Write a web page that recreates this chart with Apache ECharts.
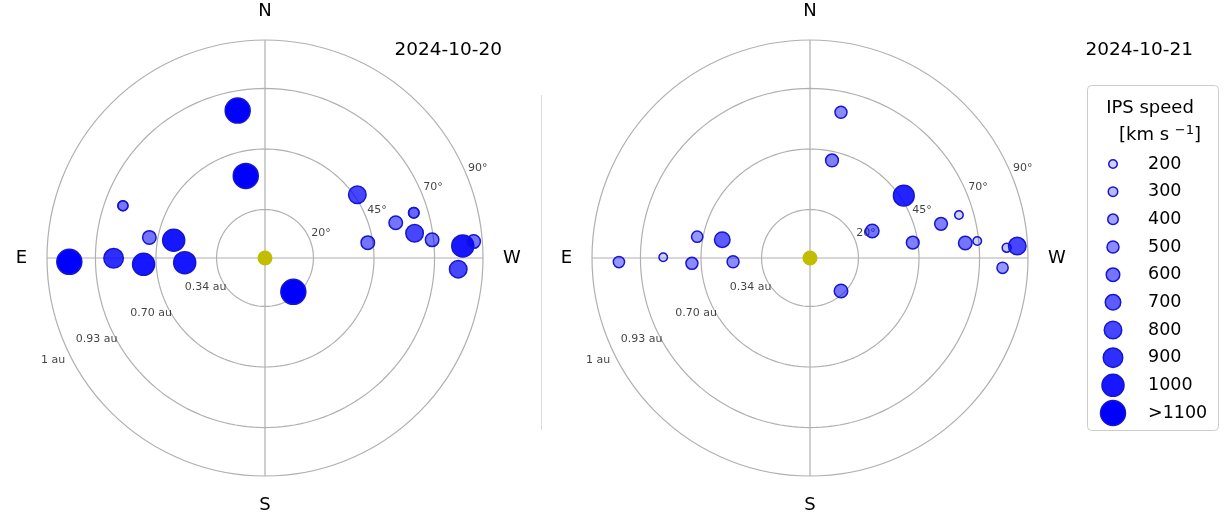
<!DOCTYPE html>
<html>
<head>
<meta charset="utf-8">
<script src="https://cdn.jsdelivr.net/npm/echarts@6/dist/echarts.min.js"></script>
<style>
  html, body { margin: 0; padding: 0; background: #fff; }
  #chart { width: 1227px; height: 513px; }
</style>
</head>
<body>
<div id="chart"></div>
<script>
// Elongation rings (deg) and their heliocentric distance labels
const ringDegs = [20, 45, 70, 90];
const ringAu = ['0.34 au', '0.70 au', '0.93 au', '1 au'];
// Compass labels at position angles 0, 90, 180, 270 (N through E)
const compass = ['N', 'E', 'S', 'W'];
const dates = ['2024-10-20', '2024-10-21'];

// 2024-10-20 IPS observations: elongation (deg), position angle (deg), speed (km/s)
const elong20 = [61.9, 34.8, 62.5, 62.5, 48.5, 38.4, 80.8, 62.5, 50.2, 33.2, 18.2, 46.2, 42.9, 55.9, 64.2, 64.2, 62.6, 69.4, 81.8, 86.4, 79.9];
const pa20    = [10.5, 13.2, 69.8, 69.8, 79.9, 79.0, 91.1, 90.1, 93.0, 93.3, 220.0, 304.4, 278.5, 285.1, 286.9, 286.9, 279.4, 276.2, 273.5, 274.5, 266.7];
const speed20 = [1150, 1150, 350, 350, 600, 1000, 1150, 900, 1000, 1000, 1150, 800, 600, 600, 400, 400, 800, 600, 1000, 600, 800];

// 2024-10-21 IPS observations
const elong21 = [78.9, 60.6, 48.8, 47.4, 37.0, 31.8, 61.5, 41.3, 46.5, 28.0, 42.9, 18.7, 55.9, 64.0, 64.4, 69.4, 81.3, 85.7, 79.6];
const pa21    = [91.2, 89.7, 92.6, 79.3, 78.2, 92.8, 348.0, 347.3, 303.6, 293.4, 278.5, 223.2, 284.6, 286.1, 275.5, 275.8, 273.0, 273.3, 267.1];
const speed21 = [450, 200, 500, 450, 700, 500, 500, 550, 950, 600, 550, 600, 550, 200, 600, 200, 250, 800, 450];

// Legend entries
const legendSpeeds = [200, 300, 400, 500, 600, 700, 800, 900, 1000, 1100];
const legendLabels = ['200', '300', '400', '500', '600', '700', '800', '900', '1000', '>1100'];

const FONT = 'DejaVu Sans';
const GRID_GRAY = '#b0b0b0';

// marker diameter for a given speed (clamped above 1100)
const sizeStops = [[200, 8.5], [300, 9.5], [400, 10.5], [500, 12], [600, 13.5], [700, 15.5], [800, 17.5], [900, 19.5], [1000, 22], [1100, 25]];
function markerSize(v) {
  if (v <= sizeStops[0][0]) return sizeStops[0][1];
  for (let i = 1; i < sizeStops.length; i++) {
    const [v1, s1] = sizeStops[i];
    const [v0, s0] = sizeStops[i - 1];
    if (v <= v1) return s0 + (s1 - s0) * (v - v0) / (v1 - v0);
  }
  return sizeStops[sizeStops.length - 1][1];
}
function markerFill(v) {
  const a = Math.max(0.1, Math.min(1, v / 1100));
  return 'rgba(0,0,255,' + a.toFixed(3) + ')';
}
const markerStyle = {
  color: (p) => markerFill(p.value[2]),
  borderColor: '#1616d0',
  borderWidth: 1.5,
  opacity: 1
};

const centers = [[265, 258], [810, 258]];
const R_OUT = 218;

// inner elongation rings; the outermost one is the angle axis line
function ringSeries(pi) {
  return ringDegs.slice(0, -1).map((r) => {
    const pts = [];
    for (let a = 0; a <= 360; a += 2) pts.push([r, a]);
    return {
      type: 'line', coordinateSystem: 'polar', polarIndex: pi, clip: false,
      data: pts, showSymbol: false, silent: true, smooth: false,
      lineStyle: { color: GRID_GRAY, width: 1.2 }, z: 1
    };
  });
}

function labelSeries(pi) {
  return [
    {
      // elongation ring labels, up-right of the W axis
      type: 'scatter', coordinateSystem: 'polar', polarIndex: pi, silent: true, clip: false,
      symbolSize: 1, itemStyle: { color: 'rgba(0,0,0,0)' },
      data: ringDegs.map((r) => ({ value: [r, 292.5], name: r + '°' })),
      label: {
        show: true, position: [2, 0], align: 'left', verticalAlign: 'bottom',
        formatter: (p) => p.name, fontFamily: FONT, fontSize: 11, color: '#111'
      }, z: 3
    },
    {
      // distance labels, down-left of the E axis
      type: 'scatter', coordinateSystem: 'polar', polarIndex: pi, silent: true, clip: false,
      symbolSize: 1, itemStyle: { color: 'rgba(0,0,0,0)' },
      data: ringDegs.map((r, i) => ({ value: [r + 7.2, 115.8], name: ringAu[i] })),
      label: {
        show: true, position: 'inside',
        formatter: (p) => p.name, fontFamily: FONT, fontSize: 11, color: '#111'
      }, z: 3
    },
    {
      // the Sun
      type: 'scatter', coordinateSystem: 'polar', polarIndex: pi, silent: true,
      symbolSize: 15, itemStyle: { color: '#c3bd00', opacity: 1 },
      data: [[0, 0]], z: 4
    }
  ];
}

function obsSeries(pi, el, pa, sp) {
  return {
    type: 'scatter', coordinateSystem: 'polar', polarIndex: pi, clip: false,
    data: el.map((e, i) => [e, pa[i], sp[i]]),
    symbolSize: (v) => markerSize(v[2]),
    itemStyle: markerStyle, z: 5
  };
}

const polar = centers.map((c) => ({ center: c, radius: [0, R_OUT] }));
const angleAxis = centers.map((c, i) => ({
  polarIndex: i, type: 'value', min: 0, max: 360, interval: 90,
  startAngle: 90, clockwise: false,
  axisLine: { show: true, lineStyle: { color: GRID_GRAY, width: 1.2 } },
  axisTick: { show: false },
  splitLine: { show: true, lineStyle: { color: GRID_GRAY, width: 1.2 } },
  axisLabel: {
    show: true, margin: 20, fontFamily: FONT, fontSize: 18, color: '#000',
    formatter: (v) => (v < 360 ? compass[Math.round(v / 90)] : '')
  }
}));
const radiusAxis = centers.map((c, i) => ({
  polarIndex: i, type: 'value', min: 0, max: 90,
  axisLine: { show: false }, axisTick: { show: false },
  axisLabel: { show: false }, splitLine: { show: false }
}));

const series = [
  ...ringSeries(0), ...ringSeries(1),
  ...labelSeries(0), ...labelSeries(1),
  obsSeries(0, elong20, pa20, speed20),
  obsSeries(1, elong21, pa21, speed21),
  {
    // legend markers
    type: 'scatter', xAxisIndex: 0, yAxisIndex: 0, silent: true,
    data: legendSpeeds.map((v, i) => [0.5, i, v]),
    symbolSize: (v) => markerSize(v[2]),
    itemStyle: markerStyle, z: 5
  }
];

const titleStyle = { fontFamily: FONT, fontSize: 18.5, fontWeight: 'normal', color: '#000' };

const chart = echarts.init(document.getElementById('chart'), null, { renderer: 'canvas' });
chart.setOption({
  backgroundColor: '#fff',
  animation: false,
  textStyle: { fontFamily: FONT },
  title: [
    { text: dates[0], right: 720, top: 36, textStyle: titleStyle },
    { text: dates[1], right: 29, top: 36, textStyle: titleStyle }
  ],
  polar: polar,
  angleAxis: angleAxis,
  radiusAxis: radiusAxis,
  grid: { left: 1103, top: 164, width: 20, height: 249 },
  xAxis: { type: 'value', min: 0, max: 1, show: false },
  yAxis: {
    type: 'category', data: legendLabels, inverse: true, boundaryGap: false, position: 'right',
    axisLine: { show: false }, axisTick: { show: false }, splitLine: { show: false },
    axisLabel: { margin: 25, align: 'left', fontFamily: FONT, fontSize: 17.5, color: '#000' }
  },
  graphic: [
    { type: 'line', shape: { x1: 541.5, y1: 95, x2: 541.5, y2: 430 }, style: { stroke: '#dcdcdc', lineWidth: 1 }, silent: true },
    { type: 'rect', shape: { x: 1087.5, y: 85.5, width: 131, height: 345, r: 4 }, style: { fill: '#fff', stroke: '#cccccc', lineWidth: 1 }, z: -1, silent: true },
    { type: 'text', x: 1150, y: 108, style: { text: 'IPS speed', font: '18px "DejaVu Sans"', fill: '#000', align: 'center', verticalAlign: 'middle' }, silent: true },
    {
      type: 'text', x: 1160, y: 135, silent: true,
      style: {
        text: '[km s {sup|\u22121}]', fill: '#000', align: 'center', verticalAlign: 'middle',
        font: '18px "DejaVu Sans"',
        rich: { sup: { fontFamily: FONT, fontSize: 13, fill: '#000', padding: [0, 0, 9, 0] } }
      }
    }
  ],
  series: series
});
</script>
</body>
</html>
